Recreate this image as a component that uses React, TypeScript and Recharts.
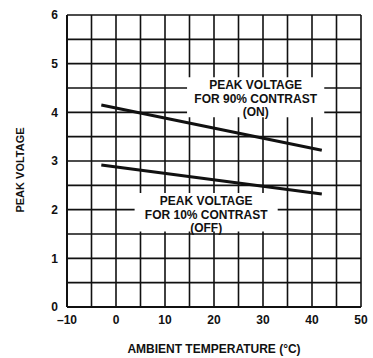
import React from "react";
import {
  LineChart,
  Line,
  XAxis,
  YAxis,
  CartesianGrid,
  ReferenceArea,
} from "recharts";

const temps = [-3, 42];
const onVoltage = [4.15, 3.22];
const offVoltage = [2.92, 2.32];

const xTicks = [-10, -5, 0, 5, 10, 15, 20, 25, 30, 35, 40, 45, 50];
const yTicks = [0, 0.5, 1, 1.5, 2, 2.5, 3, 3.5, 4, 4.5, 5, 5.5, 6];

const onLabel = ["PEAK VOLTAGE", "FOR 90% CONTRAST", "(ON)"];
const offLabel = ["PEAK VOLTAGE", "FOR 10% CONTRAST", "(OFF)"];

const data = temps.map((t, i) => ({
  temp: t,
  on: onVoltage[i],
  off: offVoltage[i],
}));

const FONT = "'Liberation Sans', Arial, sans-serif";

function labelBlock(lines: string[]) {
  return (props: any) => {
    const { x, y, width } = props.viewBox;
    const cx = x + width / 2;
    return (
      <text
        x={cx}
        y={y + 12}
        textAnchor="middle"
        fontFamily={FONT}
        fontWeight="bold"
        fontSize={12}
        fill="#111"
      >
        {lines.map((l, i) => (
          <tspan key={i} x={cx} dy={i === 0 ? 0 : 13.5}>
            {l}
          </tspan>
        ))}
      </text>
    );
  };
}

const yLabel = (props: any) => {
  const { y, height } = props.viewBox;
  const cy = y + height / 2 + 9;
  return (
    <text
      x={24}
      y={cy}
      transform={`rotate(-90 24 ${cy})`}
      textAnchor="middle"
      fontFamily={FONT}
      fontWeight="bold"
      fontSize={11}
      fill="#111"
    >
      PEAK VOLTAGE
    </text>
  );
};

const fmtX = (v: number) =>
  v % 10 === 0 ? (v < 0 ? `–${Math.abs(v)}` : `${v}`) : "";
const fmtY = (v: number) => (Number.isInteger(v) ? `${v}` : "");

export default function App() {
  return (
    <div style={{ position: "absolute", left: 0, top: 0, background: "#fff" }}>
      <LineChart
        width={373}
        height={358}
        data={data}
        margin={{ top: 15, right: 12, left: 0, bottom: 0 }}
      >
        <CartesianGrid stroke="#111" strokeWidth={1.6} />
        <XAxis
          dataKey="temp"
          type="number"
          domain={[-10, 50]}
          ticks={xTicks}
          tickFormatter={fmtX}
          tickLine={false}
          axisLine={{ stroke: "#111", strokeWidth: 2 }}
          height={51}
          tick={{ fill: "#111", fontSize: 12, fontWeight: "bold", fontFamily: FONT }}
          tickMargin={2}
          interval={0}
          label={{
            value: "AMBIENT TEMPERATURE (°C)",
            position: "insideBottom",
            offset: 5,
            fill: "#111",
            fontSize: 12,
            fontWeight: "bold",
            fontFamily: FONT,
          }}
        />
        <YAxis
          type="number"
          domain={[0, 6]}
          ticks={yTicks}
          tickFormatter={fmtY}
          tickLine={false}
          axisLine={{ stroke: "#111", strokeWidth: 2 }}
          width={67}
          interval={0}
          tickMargin={3}
          tick={{ fill: "#111", fontSize: 12, fontWeight: "bold", fontFamily: FONT }}
          label={yLabel}
        />
        <ReferenceArea
          x1={14.5}
          x2={42.5}
          y1={3.9}
          y2={4.72}
          fill="#fff"
          fillOpacity={1}
          stroke="none"
          label={labelBlock(onLabel)}
        />
        <ReferenceArea
          x1={3.8}
          x2={33}
          y1={1.55}
          y2={2.34}
          fill="#fff"
          fillOpacity={1}
          stroke="none"
          label={labelBlock(offLabel)}
        />
        <Line
          dataKey="on"
          stroke="#111"
          strokeWidth={3}
          dot={false}
          isAnimationActive={false}
        />
        <Line
          dataKey="off"
          stroke="#111"
          strokeWidth={3}
          dot={false}
          isAnimationActive={false}
        />
      </LineChart>
    </div>
  );
}
